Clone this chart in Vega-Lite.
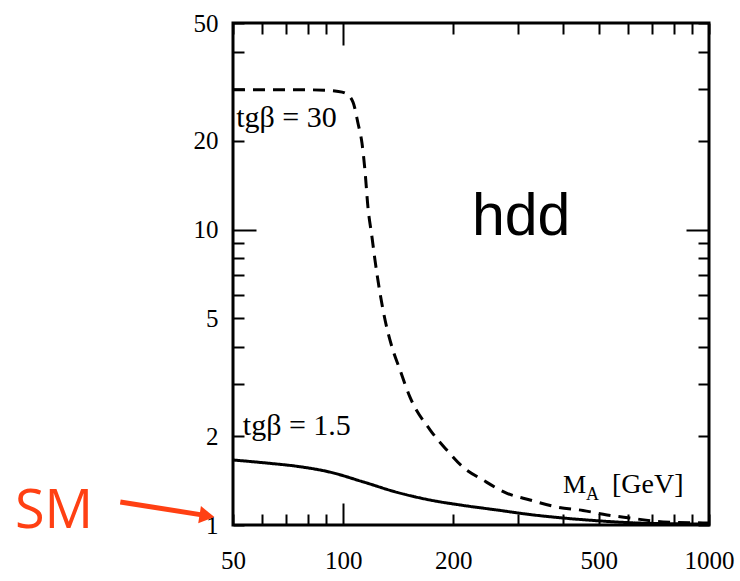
{
  "$schema": "https://vega.github.io/schema/vega-lite/v6.json",
  "width": 476,
  "height": 502,
  "autosize": {"type": "none"},
  "padding": {"left": 233, "top": 23, "right": 31, "bottom": 56},
  "background": "white",
  "config": {
    "view": {"stroke": "black", "strokeWidth": 3},
    "axis": {
      "grid": false, "domain": false, "title": null,
      "tickColor": "black", "tickWidth": 2,
      "labelColor": "black", "labelFont": "Liberation Serif", "labelFontSize": 25,
      "labelOverlap": false, "labelFlush": false
    }
  },
  "resolve": {"axis": {"x": "independent", "y": "independent"}},
  "layer": [
    {
      "data": {"values": [
        {"M": 50, "value": 29.7, "series": "30"},
        {"M": 60, "value": 29.7, "series": "30"},
        {"M": 70, "value": 29.7, "series": "30"},
        {"M": 80, "value": 29.7, "series": "30"},
        {"M": 90, "value": 29.6, "series": "30"},
        {"M": 96, "value": 29.4, "series": "30"},
        {"M": 101.2, "value": 29.0, "series": "30"},
        {"M": 106.4, "value": 27.0, "series": "30"},
        {"M": 109.8, "value": 22.9, "series": "30"},
        {"M": 112.6, "value": 19.6, "series": "30"},
        {"M": 114.7, "value": 15.9, "series": "30"},
        {"M": 116.9, "value": 11.9, "series": "30"},
        {"M": 119.9, "value": 9.43, "series": "30"},
        {"M": 122.2, "value": 7.88, "series": "30"},
        {"M": 126.1, "value": 6.10, "series": "30"},
        {"M": 130.2, "value": 4.94, "series": "30"},
        {"M": 136.0, "value": 4.00, "series": "30"},
        {"M": 143.0, "value": 3.35, "series": "30"},
        {"M": 152.3, "value": 2.71, "series": "30"},
        {"M": 172.8, "value": 2.10, "series": "30"},
        {"M": 192.3, "value": 1.79, "series": "30"},
        {"M": 212.7, "value": 1.57, "series": "30"},
        {"M": 241.2, "value": 1.42, "series": "30"},
        {"M": 280.5, "value": 1.28, "series": "30"},
        {"M": 324.2, "value": 1.215, "series": "30"},
        {"M": 384.2, "value": 1.15, "series": "30"},
        {"M": 452.3, "value": 1.12, "series": "30"},
        {"M": 526.3, "value": 1.081, "series": "30"},
        {"M": 608.3, "value": 1.056, "series": "30"},
        {"M": 748.8, "value": 1.024, "series": "30"},
        {"M": 963, "value": 1.016, "series": "30"},
        {"M": 1000, "value": 1.015, "series": "30"},
        {"M": 50, "value": 1.66, "series": "1.5"},
        {"M": 62, "value": 1.62, "series": "1.5"},
        {"M": 74.8, "value": 1.58, "series": "1.5"},
        {"M": 92.1, "value": 1.51, "series": "1.5"},
        {"M": 113.3, "value": 1.40, "series": "1.5"},
        {"M": 140.4, "value": 1.29, "series": "1.5"},
        {"M": 172.8, "value": 1.215, "series": "1.5"},
        {"M": 212.7, "value": 1.165, "series": "1.5"},
        {"M": 263.3, "value": 1.124, "series": "1.5"},
        {"M": 324.2, "value": 1.085, "series": "1.5"},
        {"M": 399, "value": 1.056, "series": "1.5"},
        {"M": 494, "value": 1.034, "series": "1.5"},
        {"M": 608, "value": 1.018, "series": "1.5"},
        {"M": 800, "value": 1.01, "series": "1.5"},
        {"M": 1000, "value": 1.006, "series": "1.5"}
      ]},
      "mark": {"type": "line", "color": "black", "strokeWidth": 3, "interpolate": "monotone"},
      "encoding": {
        "x": {"field": "M", "type": "quantitative",
          "scale": {"type": "log", "domain": [50, 1000], "nice": false},
          "axis": {"orient": "bottom",
            "values": [50, 60, 70, 80, 90, 100, 200, 300, 400, 500, 600, 700, 800, 900, 1000],
            "labelExpr": "indexof([50,100,200,500,1000], datum.value) >= 0 ? datum.value : ''",
            "tickSize": {"condition": {"test": "datum.value == 100", "value": -22}, "value": -11},
            "labelPadding": {"condition": {"test": "datum.value == 100", "value": 45}, "value": 34}}},
        "y": {"field": "value", "type": "quantitative",
          "scale": {"type": "log", "domain": [1, 50], "nice": false},
          "axis": {"orient": "left",
            "values": [1, 2, 3, 4, 5, 6, 7, 8, 9, 10, 20, 30, 40, 50],
            "labelExpr": "indexof([1,2,5,10,20,50], datum.value) >= 0 ? datum.value : ''",
            "tickSize": {"condition": {"test": "datum.value == 10", "value": -23}, "value": -11},
            "labelPadding": {"condition": {"test": "datum.value == 10", "value": 38}, "value": 26}}},
        "detail": {"field": "series"},
        "strokeDash": {"field": "series", "type": "nominal",
          "scale": {"domain": ["30", "1.5"], "range": [[12, 8], [1, 0]]}, "legend": null}
      }
    },
    {
      "data": {"values": [
        {"M": 51, "value": 22.2, "label": "tgβ = 30"},
        {"M": 53.2, "value": 2.017, "label": "tgβ = 1.5"}
      ]},
      "mark": {"type": "text", "align": "left", "baseline": "alphabetic", "font": "Liberation Serif", "fontSize": 30, "color": "black"},
      "encoding": {
        "x": {"field": "M", "type": "quantitative", "scale": {"type": "log", "domain": [50, 1000], "nice": false},
          "axis": {"orient": "top", "labels": false,
            "values": [50, 60, 70, 80, 90, 100, 200, 300, 400, 500, 600, 700, 800, 900, 1000],
            "tickSize": {"condition": {"test": "datum.value == 100", "value": -22}, "value": -11}}},
        "y": {"field": "value", "type": "quantitative", "scale": {"type": "log", "domain": [1, 50], "nice": false},
          "axis": {"orient": "right", "labels": false,
            "values": [1, 2, 3, 4, 5, 6, 7, 8, 9, 10, 20, 30, 40, 50],
            "tickSize": {"condition": {"test": "datum.value == 10", "value": -23}, "value": -11}}},
        "text": {"field": "label"}
      }
    },
    {
      "data": {"values": [{"M": 225, "value": 9.58, "label": "hdd"}]},
      "mark": {"type": "text", "align": "left", "baseline": "alphabetic", "font": "Liberation Sans", "fontSize": 59, "color": "black"},
      "encoding": {
        "x": {"field": "M", "type": "quantitative", "scale": {"type": "log", "domain": [50, 1000], "nice": false}, "axis": null},
        "y": {"field": "value", "type": "quantitative", "scale": {"type": "log", "domain": [1, 50], "nice": false}, "axis": null},
        "text": {"field": "label"}
      }
    },
    {
      "data": {"values": [{"M": 399, "value": 1.283, "label": "M"}]},
      "mark": {"type": "text", "align": "left", "baseline": "alphabetic", "font": "Liberation Serif", "fontSize": 26, "color": "black"},
      "encoding": {
        "x": {"field": "M", "type": "quantitative", "scale": {"type": "log", "domain": [50, 1000], "nice": false}, "axis": null},
        "y": {"field": "value", "type": "quantitative", "scale": {"type": "log", "domain": [1, 50], "nice": false}, "axis": null},
        "text": {"field": "label"}
      }
    },
    {
      "data": {"values": [{"M": 399, "value": 1.283, "label": "A"}]},
      "mark": {"type": "text", "align": "left", "baseline": "alphabetic", "font": "Liberation Serif", "fontSize": 18, "color": "black", "dx": 23, "dy": 7},
      "encoding": {
        "x": {"field": "M", "type": "quantitative", "scale": {"type": "log", "domain": [50, 1000], "nice": false}, "axis": null},
        "y": {"field": "value", "type": "quantitative", "scale": {"type": "log", "domain": [1, 50], "nice": false}, "axis": null},
        "text": {"field": "label"}
      }
    },
    {
      "data": {"values": [{"M": 399, "value": 1.283, "label": "[GeV]"}]},
      "mark": {"type": "text", "align": "left", "baseline": "alphabetic", "font": "Liberation Serif", "fontSize": 28, "color": "black", "dx": 49},
      "encoding": {
        "x": {"field": "M", "type": "quantitative", "scale": {"type": "log", "domain": [50, 1000], "nice": false}, "axis": null},
        "y": {"field": "value", "type": "quantitative", "scale": {"type": "log", "domain": [1, 50], "nice": false}, "axis": null},
        "text": {"field": "label"}
      }
    },
    {
      "data": {"values": [{"M": 12.68, "value": 0.977, "label": "SM"}]},
      "mark": {"type": "text", "align": "left", "baseline": "alphabetic", "font": "Open Sans", "fontSize": 54, "color": "#ff4013"},
      "encoding": {
        "x": {"field": "M", "type": "quantitative", "scale": {"type": "log", "domain": [50, 1000], "nice": false}, "axis": null},
        "y": {"field": "value", "type": "quantitative", "scale": {"type": "log", "domain": [1, 50], "nice": false}, "axis": null},
        "text": {"field": "label"}
      }
    },
    {
      "data": {"values": [{"M": 24.6, "value": 1.196, "M2": 41.9, "value2": 1.078}]},
      "mark": {"type": "rule", "color": "#ff4013", "strokeWidth": 5},
      "encoding": {
        "x": {"field": "M", "type": "quantitative", "scale": {"type": "log", "domain": [50, 1000], "nice": false}, "axis": null},
        "y": {"field": "value", "type": "quantitative", "scale": {"type": "log", "domain": [1, 50], "nice": false}, "axis": null},
        "x2": {"field": "M2"},
        "y2": {"field": "value2"}
      }
    },
    {
      "data": {"values": [{"M": 42.45, "value": 1.074}]},
      "mark": {"type": "point", "shape": "triangle-right", "filled": true, "size": 300, "angle": 9, "color": "#ff4013", "opacity": 1},
      "encoding": {
        "x": {"field": "M", "type": "quantitative", "scale": {"type": "log", "domain": [50, 1000], "nice": false}, "axis": null},
        "y": {"field": "value", "type": "quantitative", "scale": {"type": "log", "domain": [1, 50], "nice": false}, "axis": null}
      }
    }
  ]
}
